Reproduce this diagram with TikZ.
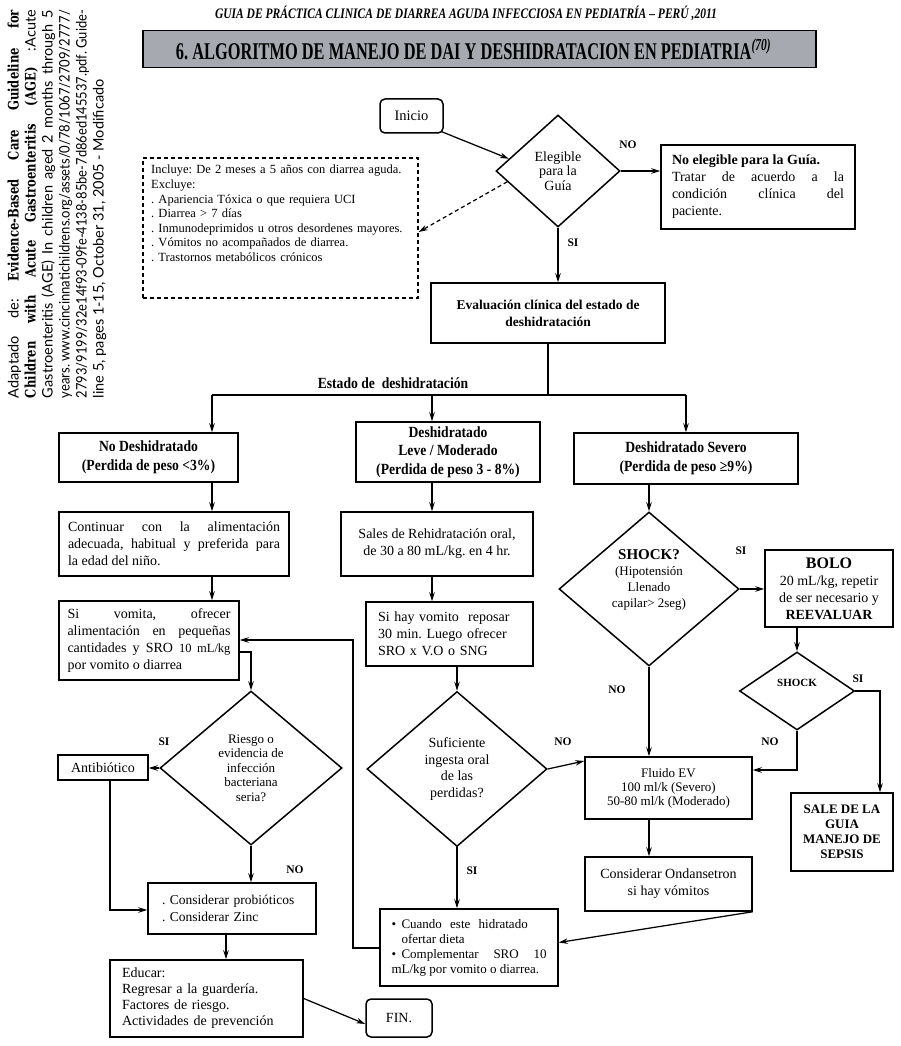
\documentclass[tikz,border=0pt]{standalone}
\usepackage{fontspec}
\usepackage{graphicx}
\setmainfont{Liberation Serif}
\newfontfamily\condf[FakeStretch=0.88]{Liberation Serif}
\newfontfamily\sidef{Lato}
\newfontfamily\sidebf[FakeStretch=0.8]{DejaVu Serif}
\usetikzlibrary{arrows.meta,shapes.geometric,calc}
\newcommand\fs[2]{\fontsize{#1}{#2}\selectfont}
\definecolor{tgray}{RGB}{166,170,176}
\newlength\fitw
\newcommand\fitline[1]{\settowidth\fitw{#1}\ifdim\fitw>388pt\resizebox{388pt}{\height}{#1}\else\makebox[388pt][s]{#1}\fi}
\begin{document}
\frenchspacing
\begin{tikzpicture}[x=1pt,y=-1pt,
  box/.style={draw, line width=1.5pt, inner sep=0pt, align=center, font=\fs{14}{17}},
  dia/.style={diamond, draw, line width=1.5pt, inner sep=0pt, align=center},
  arr/.style={-{Stealth[length=9pt,width=5.5pt]}, line width=1.25pt},
  ln/.style={line width=1.25pt},
  lbl/.style={font=\bfseries\fs{11.5}{11.5}, inner sep=0pt},
  state/.style={box, font=\condf\bfseries\fs{15.5}{18.5}}]
\useasboundingbox (0,0) rectangle (900,1046);
\fill[white] (0,0) rectangle (900,1046);

% side note
\node[rotate=90, inner sep=0pt, align=left, font=\sidef\fs{14.5}{17}] (side) at (57,204)
 {\fitline{Adaptado de: {\sidebf\bfseries Evidence-Based Care Guideline for}}\\
  \fitline{{\sidebf\bfseries Children with Acute Gastroenteritis (AGE)} :Acute}\\
  \fitline{Gastroenteritis (AGE) In children aged 2 months through 5}\\
  \fitline{years. www.cincinnatichildrens.org/assets/0/78/1067/2709/2777/}\\
  \fitline{2793/9199/32e14f93-09fe-4138-85be-7d86ed145537.pdf. Guide-}\\
  line 5, pages 1-15, October 31, 2005 - Modificado};

% header
\node[inner sep=0pt] (hdr) at (466,13) {\resizebox{502pt}{\height}{\fs{14.5}{14.5}\bfseries\itshape GUIA DE PRÁCTICA CLINICA DE DIARREA AGUDA INFECCIOSA EN PEDIATRÍA – PERÚ ,2011}};
\node[draw, line width=1.8pt, fill=tgray, minimum width=673pt, minimum height=37pt, inner sep=0pt] (title) at (479.5,49)
 {\resizebox{595pt}{\height}{\fs{24}{24}\bfseries 6. ALGORITMO DE MANEJO DE DAI Y DESHIDRATACION EN PEDIATRIA\textsuperscript{\itshape (70)}}\hspace*{12pt}};

% top part
\node[box, rounded corners=5pt, minimum width=63pt, minimum height=34pt, font=\fs{14.5}{17}] (inicio) at (411.5,116) {Inicio};
\node[dia, minimum width=124pt, minimum height=112pt, font=\fs{14}{14.5}] (elig) at (558,171) {Elegible\\para la\\Guía};
\node[box, minimum width=194pt, minimum height=84pt, text width=172pt, align=justify] (noel) at (758,187)
 {\textbf{No elegible para la Guía.}\\Tratar de acuerdo a la\linebreak condición clínica del\linebreak paciente.};
\node[draw, dashed, dash pattern=on 4pt off 3pt, line width=1.3pt, minimum width=275pt, minimum height=140pt, inner sep=0pt] (dbox) at (280.5,228) {};
\node[anchor=north west, inner sep=0pt, text width=262pt, align=left, font=\fs{12.5}{14.6}] (dtext) at (151,165)
 {Incluye: De 2 meses a 5 años con diarrea aguda.\\
  Excluye:\\
  . Apariencia Tóxica o que requiera UCI\\
  . Diarrea > 7 días\\
  . Inmunodeprimidos u otros desordenes mayores.\\
  . Vómitos no acompañados de diarrea.\\
  . Trastornos metabólicos crónicos};
\node[box, minimum width=234pt, minimum height=60pt, font=\bfseries\fs{13.5}{17}] (eval) at (548,313) {Evaluación clínica del estado de\\deshidratación};

\node[inner sep=0pt, font=\condf\bfseries\fs{15.5}{16}] (estado) at (393,383) {Estado de\ \ deshidratación};

% states
\node[state, minimum width=179pt, minimum height=49pt] (nodesh) at (148.5,457.5) {No Deshidratado\\(Perdida de peso <3\%)};
\node[state, minimum width=184pt, minimum height=60pt] (leve) at (448,452) {Deshidratado\\Leve / Moderado\\(Perdida de peso 3 - 8\%)};
\node[state, minimum width=224pt, minimum height=51pt] (severo) at (686,458.5) {Deshidratado Severo\\(Perdida de peso ≥9\%)};

% left column
\node[box, minimum width=230pt, minimum height=64pt, text width=212pt, align=justify] (cont) at (174,544)
 {Continuar con la alimentación\linebreak adecuada, habitual y preferida para\linebreak la edad del niño.};
\node[box, minimum width=180pt, minimum height=79pt, text width=163pt, align=justify] (sivom) at (149,640.5)
 {Si vomita, ofrecer\linebreak alimentación en pequeñas\linebreak cantidades y SRO {\fs{12.5}{17}10 mL/kg}\linebreak por vomito o diarrea};
\node[dia, minimum width=182pt, minimum height=154pt, font=\fs{13}{14.5}] (riesgo) at (251,768) {Riesgo o\\evidencia de\\infección\\bacteriana\\seria?};
\node[box, minimum width=90pt, minimum height=25pt] (antib) at (103,767.5) {Antibiótico};
\node[box, minimum width=168pt, minimum height=51pt, text width=140pt, align=left, font=\fs{13.5}{16.7}] (prob) at (232,908.5) {. Considerar probióticos\\. Considerar Zinc};
\node[box, minimum width=193pt, minimum height=77pt, text width=169pt, align=left, font=\fs{14}{16}] (educ) at (206.5,998.5)
 {Educar:\\Regresar a la guardería.\\Factores de riesgo.\\Actividades de prevención};
\node[box, rounded corners=5pt, minimum width=66pt, minimum height=38pt] (fin) at (399,1018) {FIN.};

% middle column
\node[box, minimum width=192pt, minimum height=64pt] (sales) at (437,544) {Sales de Rehidratación oral,\\de 30 a 80 mL/kg. en 4 hr.};
\node[box, minimum width=167pt, minimum height=64pt, text width=143pt, align=left] (sihay) at (449.5,634) {Si hay vomito\ \ reposar\\30 min. Luego ofrecer\\SRO x V.O o SNG};
\node[dia, minimum width=180pt, minimum height=155pt, font=\fs{14}{16.7}] (suf) at (457,769) {Suficiente\\ingesta oral\\de las\\perdidas?};
\node[box, minimum width=178pt, minimum height=77pt, text width=155pt, align=justify, font=\fs{13}{15}] (cuando) at (469,947.5)
 {\hangindent=10pt\hangafter=1\makebox[10pt][l]{•}Cuando\hspace{5pt} este\hspace{5pt} hidratado\hfill\null\linebreak ofertar dieta\par
  \hangindent=10pt\hangafter=1\makebox[10pt][l]{•}Complementar SRO 10\linebreak mL/kg por vomito o diarrea.};

% right column
\node[dia, minimum width=180pt, minimum height=154pt] (shock) at (649,589) {};
\node[inner sep=0pt, align=center, font=\fs{13}{16}] (shocktxt) at (649,580) {{\bfseries\fs{15}{17}SHOCK?}\\(Hipotensión\\Llenado\\capilar> 2seg)};
\node[box, minimum width=128pt, minimum height=77pt] (bolo) at (829,588.5) {{\bfseries\fs{16}{18}BOLO}\\20 mL/kg, repetir\\de ser necesario y\\\textbf{REEVALUAR}};
\node[dia, minimum width=115pt, minimum height=78pt] (shock2) at (797,691) {};
\node[inner sep=0pt, font=\bfseries\fs{11}{11}] (shock2txt) at (797,683) {SHOCK};
\node[box, minimum width=102pt, minimum height=78pt, font=\bfseries\fs{13}{15}] (sale) at (842,832) {SALE DE LA\\GUIA\\MANEJO DE\\SEPSIS};
\node[box, minimum width=167pt, minimum height=62pt, font=\fs{13}{14}] (fluido) at (668.5,788) {Fluido EV\\100 ml/k (Severo)\\50-80 ml/k (Moderado)};
\node[box, minimum width=167pt, minimum height=54pt] (ondan) at (668.5,884) {Considerar Ondansetron\\si hay vómitos};

% connectors
\draw[arr] ($(inicio.south east)+(-2,-2)$) -- (elig.166);
\draw[arr] (elig.east) -- (elig.east -| noel.west);
\draw[arr, dashed, dash pattern=on 4pt off 3pt] (elig.192) -- ($(dbox.east)+(0,4)$);
\draw[arr] (elig.south) -- (elig.south |- eval.north);

\coordinate (cL) at (212,395);
\coordinate (cM) at (432,395);
\coordinate (cR) at (686,395);
\draw[ln] (eval.south) -- (eval.south |- cL);
\draw[ln] (cL) -- (cR);
\draw[arr] (cL) -- (cL |- nodesh.north);
\draw[arr] (cM) -- (cM |- leve.north);
\draw[arr] (cR) -- (cR |- severo.north);

\draw[arr] (cL |- nodesh.south) -- (cL |- cont.north);
\draw[arr] (cL |- cont.south) -- (cL |- sivom.north);
\draw[arr] ($(sivom.east)+(0,11.5)$) -| (riesgo.north);
\draw[arr] (riesgo.west) -- (riesgo.west -| antib.east);
\draw[arr] (riesgo.south) -- (riesgo.south |- prob.north);
\draw[arr] ($(antib.south)+(7,0)$) |- ($(prob.west)+(0,1.5)$);
\coordinate (p1) at ($(prob.south)+(-6,0)$);
\draw[arr] (p1) -- (p1 |- educ.north);
\draw[arr] (educ.east) -- ($(fin.west)+(0,6)$);

\draw[arr] (cM |- leve.south) -- (cM |- sales.north);
\draw[arr] (cM |- sales.south) -- (cM |- sihay.north);
\draw[arr] (suf.north |- sihay.south) -- (suf.north);
\draw[arr] (suf.south) -- (suf.south |- cuando.north);
\draw[arr] (suf.east) -- ($(fluido.west)+(0,-27)$);
\coordinate (loopc) at (353,640);
\draw[arr] ($(cuando.west)+(0,0.5)$) -| (loopc) -- (loopc -| sivom.east);

\draw[arr] (shock.north |- severo.south) -- (shock.north);
\draw[arr] (shock.east) -- (shock.east -| bolo.west);
\draw[arr] (shock.south) -- (shock.south |- fluido.north);
\draw[arr] (shock2.north |- bolo.south) -- (shock2.north);
\coordinate (s2r) at (880,691);
\draw[arr] (shock2.east) -- (s2r) -- (s2r |- sale.north);
\draw[arr] (shock2.south) |- ($(fluido.east)+(0,-18)$);
\draw[arr] (shock.south |- fluido.south) -- (shock.south |- ondan.north);
\draw[arr] (ondan.south east) -- ($(cuando.east)+(0,-5)$);

% labels
\node[lbl] (l1) at (628,145) {NO};
\node[lbl] (l2) at (573,243) {SI};
\node[lbl] (l3) at (741,551) {SI};
\node[lbl] (l4) at (858,679) {SI};
\node[lbl] (l5) at (617,690) {NO};
\node[lbl] (l6) at (770,742) {NO};
\node[lbl] (l7) at (563,742) {NO};
\node[lbl] (l8) at (164,742) {SI};
\node[lbl] (l9) at (295,870) {NO};
\node[lbl] (l10) at (472,871) {SI};
\end{tikzpicture}
\end{document}
